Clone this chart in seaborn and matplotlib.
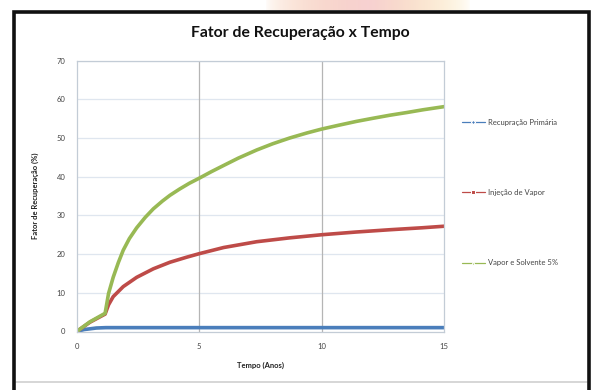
import numpy as np
import pandas as pd
import matplotlib
matplotlib.use("Agg")
import matplotlib.pyplot as plt
import matplotlib.patches as mpatches
from matplotlib.lines import Line2D
import seaborn as sns

# Series data (time in years, recovery factor in %)
labels = ["Recupração Primária", "Injeção de Vapor", "Vapor e Solvente 5%"]

t_primaria = [0, 0.3, 0.8, 1.2, 5, 10, 15]
v_primaria = [0, 0.5, 0.9, 1.0, 1.0, 1.0, 1.0]

t_vapor = [0, 0.54, 1.16, 1.3, 1.49, 1.9, 2.45, 3.13, 3.81, 4.49, 5.0, 6.0, 7.35, 8.7, 10, 11.4, 12.8, 14.1, 15]
v_vapor = [0, 2.4, 4.5, 6.9, 9.0, 11.6, 14.0, 16.2, 17.9, 19.2, 20.1, 21.7, 23.2, 24.2, 25.0, 25.7, 26.3, 26.8, 27.2]

t_solvente = [0, 0.54, 1.16, 1.3, 1.49, 1.7, 1.9, 2.15, 2.45, 2.8, 3.13, 3.5, 3.81, 4.2, 4.6, 5.0, 5.5, 6.0, 6.6, 7.35, 8.0, 8.7, 9.4, 10, 10.7, 11.43, 12.1, 12.8, 13.5, 14.15, 15]
v_solvente = [0, 2.5, 4.7, 9.8, 14.0, 17.8, 21.0, 24.0, 26.8, 29.5, 31.7, 33.7, 35.2, 36.8, 38.3, 39.6, 41.3, 42.9, 44.8, 46.9, 48.5, 50.0, 51.3, 52.3, 53.3, 54.3, 55.1, 55.9, 56.6, 57.3, 58.1]

x_ticks = [0, 5, 10, 15]
y_ticks = [0, 10, 20, 30, 40, 50, 60, 70]

colors = {labels[0]: "#4a7ebb", labels[1]: "#be4b48", labels[2]: "#98b954"}
markers = {labels[0]: "D", labels[1]: "s", labels[2]: "^"}

frames = []
for name, t, v in zip(labels, [t_primaria, t_vapor, t_solvente],
                      [v_primaria, v_vapor, v_solvente]):
    frames.append(pd.DataFrame({"Tempo": t, "Fator": v, "Serie": name}))
df = pd.concat(frames, ignore_index=True)

sns.set_theme(style="white")
plt.rcParams["font.family"] = ["Lato", "DejaVu Sans"]

W, H = 594, 390
fig = plt.figure(figsize=(W / 100, H / 100), dpi=100)
fig.patch.set_facecolor("white")

# faint decorative band above the chart frame
band = fig.add_axes([265 / W, 1 - 10 / H, 205 / W, 10 / H], zorder=0)
grad = np.linspace(0, 1, 200)
rgb = np.zeros((1, 200, 4))
c1 = np.array([0.96, 0.72, 0.55])
c2 = np.array([0.95, 0.70, 0.70])
c3 = np.array([0.98, 0.86, 0.55])
for i, g in enumerate(grad):
    if g < 0.5:
        c = c1 + (c2 - c1) * (g / 0.5)
    else:
        c = c2 + (c3 - c2) * ((g - 0.5) / 0.5)
    rgb[0, i, :3] = c
    rgb[0, i, 3] = 0.6 * np.sin(np.pi * g) ** 0.6
band.imshow(rgb, aspect="auto", extent=[0, 1, 0, 1])
band.axis("off")

# chart frame
frame = mpatches.Rectangle((14 / W, -0.05), (589 - 14) / W, 1.05 - 12 / H,
                           transform=fig.transFigure, fill=False,
                           edgecolor="#111111", linewidth=2.6, zorder=5)
fig.patches.append(frame)
fig.add_artist(Line2D([16 / W, 587 / W], [1 - 382 / H, 1 - 382 / H],
                      transform=fig.transFigure, color="#cfcfcf", linewidth=1.2))

ax = fig.add_axes([76.7 / W, 1 - 331.5 / H, (444 - 76.7) / W, (331.5 - 60.6) / H])

sns.lineplot(data=df, x="Tempo", y="Fator", hue="Serie", hue_order=labels,
             palette=colors, estimator=None, sort=True, linewidth=2.6,
             ax=ax, legend=True)

ax.set_xlim(0, 15)
ax.set_ylim(0, 70)
ax.set_xticks(x_ticks)
ax.set_yticks(y_ticks)
ax.set_xticklabels([str(x) for x in x_ticks])
ax.set_yticklabels([str(y) for y in y_ticks])
ax.tick_params(axis="both", labelsize=5.5, labelcolor="#444444", length=0, pad=8)

ax.grid(False)
for y in y_ticks[1:]:
    ax.axhline(y, color="#dfe6ef", linewidth=0.9, zorder=0)
for x in x_ticks[1:-1]:
    ax.axvline(x, color="#b5b5b5", linewidth=0.9, zorder=0)
for s in ax.spines.values():
    s.set_color("#c3ccd6")
    s.set_linewidth(0.9)

ax.set_xlabel("Tempo (Anos)", fontsize=5.5, fontweight="bold", color="#222222", labelpad=9)
ax.set_ylabel("Fator de Recuperação (%)", fontsize=5.5, fontweight="bold", color="#222222", labelpad=13)

fig.text(300 / W, 1 - 33 / H, "Fator de Recuperação x Tempo", ha="center", va="center",
         fontsize=11.3, fontweight="bold", color="#111111")

handles, hl = ax.get_legend_handles_labels()
ax.get_legend().remove()
leg = fig.legend(handles, hl, loc="center left", bbox_to_anchor=(462 / W, 1 - 192.5 / H),
                 frameon=False, fontsize=5.5, labelspacing=8.3, handlelength=3.0,
                 handletextpad=0.35, borderpad=0, borderaxespad=0)
for line, name in zip(leg.get_lines(), hl):
    line.set_linewidth(0.9)
    line.set_marker(markers[name])
    line.set_markersize(2.2)
    line.set_markevery([1])
for txt in leg.get_texts():
    txt.set_color("#444444")

fig.savefig("out.png", dpi=100, facecolor="white")
